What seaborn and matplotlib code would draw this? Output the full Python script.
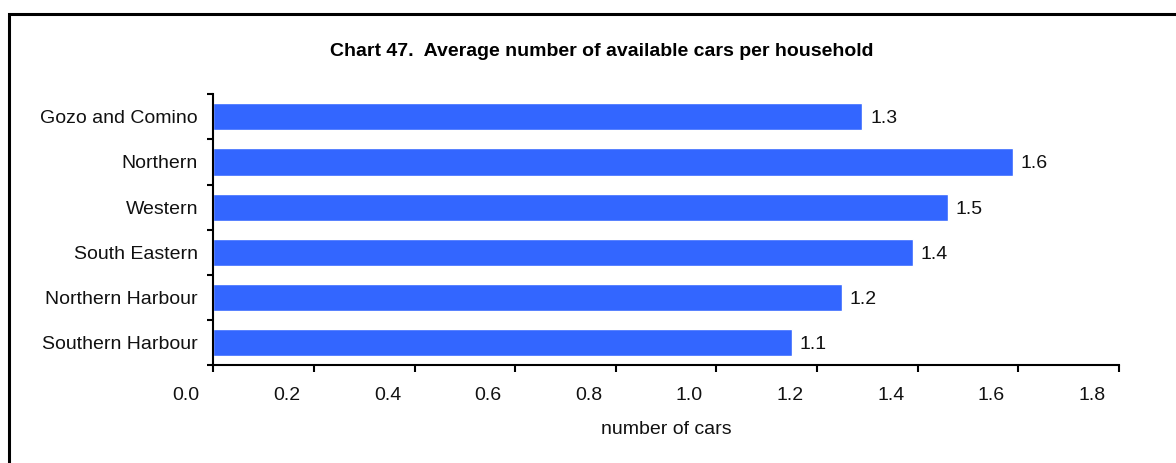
import matplotlib
matplotlib.use("Agg")
import matplotlib.pyplot as plt
import matplotlib.transforms as mtransforms
from matplotlib.patches import Rectangle
import seaborn as sns
import pandas as pd

regions = ["Gozo and Comino", "Northern", "Western", "South Eastern",
           "Northern Harbour", "Southern Harbour"]
cars = [1.29, 1.59, 1.46, 1.39, 1.25, 1.15]
value_labels = ["1.3", "1.6", "1.5", "1.4", "1.2", "1.1"]
x_ticks = [0.0, 0.2, 0.4, 0.6, 0.8, 1.0, 1.2, 1.4, 1.6, 1.8]

title = "Chart 47.  Average number of available cars per household"
xlabel = "number of cars"

sns.set_theme(style="white")
plt.rcParams['font.family'] = ['Liberation Sans', 'DejaVu Sans']

df = pd.DataFrame({"region": regions, "cars": cars})

FS = 14
W, H, DPI = 1176, 463, 100
fig = plt.figure(figsize=(W / DPI, H / DPI), dpi=DPI)
ax = fig.add_axes([213.3 / W, 1 - 365 / H, (1119 - 213.3) / W, (365 - 94.3) / H])

sns.barplot(data=df, x="cars", y="region", orient="h", color="#3366FF",
            saturation=1, width=0.6, ax=ax)

for i, (v, lab) in enumerate(zip(cars, value_labels)):
    ax.annotate(lab, xy=(v, i), xytext=(5.5, 0), textcoords="offset points",
                ha="left", va="center_baseline", fontsize=FS, color="#111111")

ax.set_xlim(0, 1.8)
ax.set_ylim(len(regions) - 0.5, -0.5)
ax.set_xticks(x_ticks)
ax.set_xticklabels([f"{t:.1f}" for t in x_ticks], fontsize=FS, color="#111111")
ax.set_yticks(range(len(regions)))
ax.set_yticklabels(regions, fontsize=FS, color="#111111")
ax.set_yticks([i - 0.5 for i in range(len(regions) + 1)], minor=True)
ax.tick_params(left=True, bottom=True, which="both")
ax.tick_params(axis="y", which="major", length=0, pad=11)
ax.tick_params(axis="y", which="minor", length=4.5, width=1.5, direction="out", color="black")
ax.tick_params(axis="x", which="major", length=5, width=1.5, direction="out", color="black", pad=11)
ax.tick_params(axis="x", which="minor", length=0)
ax.set_xlabel(xlabel, fontsize=FS, color="#111111", labelpad=12)
ax.set_ylabel("")

# shift x tick labels to the left like the original
offset = mtransforms.ScaledTranslation(-27 / DPI, 0, fig.dpi_scale_trans)
for lbl in ax.get_xticklabels():
    lbl.set_transform(lbl.get_transform() + offset)

for side in ["top", "right"]:
    ax.spines[side].set_visible(False)
for side in ["left", "bottom"]:
    ax.spines[side].set_color("black")
    ax.spines[side].set_linewidth(1.5)

fig.text(602 / W, 1 - 49 / H, title, ha="center", va="center_baseline",
         fontsize=FS, fontweight="bold", color="black")

# outer frame (cut off at right and bottom)
fig.patches.append(Rectangle((9 / W, -0.1), 1.2, 1 - 14 / H + 0.1,
                             transform=fig.transFigure, fill=False,
                             edgecolor="black", linewidth=2.2, zorder=10))

fig.savefig("out.png", dpi=DPI)
